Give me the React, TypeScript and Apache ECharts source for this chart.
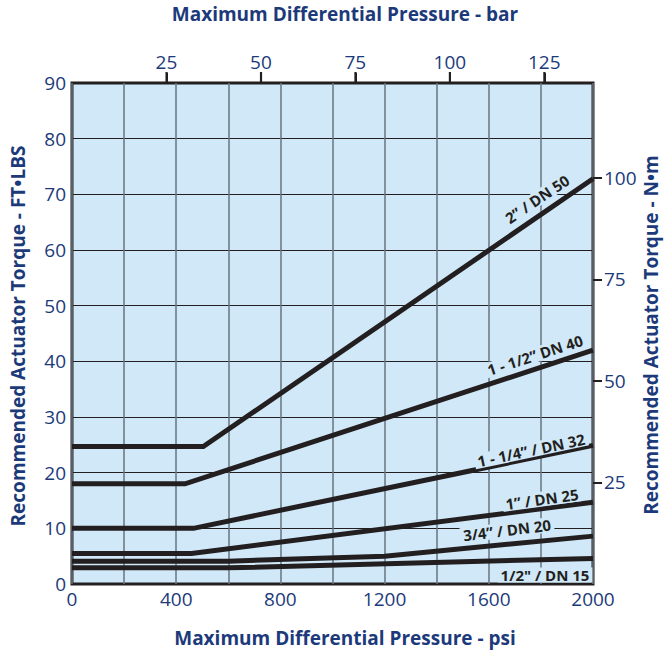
import React, { useEffect, useRef } from "react";
import * as echarts from "echarts";

// psi vs ft-lbs
const dn50 = [[0, 24.7], [504, 24.7], [2000, 72.8]];
const dn40 = [[0, 18.0], [434, 18.0], [2000, 42.0]];
const dn32 = [[0, 10.0], [466, 10.0], [2000, 24.9]];
const dn25 = [[0, 5.5], [459, 5.5], [2000, 14.7]];
const dn20 = [[0, 4.1], [600, 4.1], [1200, 5.0], [2000, 8.6]];
const dn15 = [[0, 2.9], [600, 2.9], [2000, 4.6]];

const barTicks = [25, 50, 75, 100, 125];
const nmTicks = [25, 50, 75, 100];
const lineLabels = ["2” / DN 50", "1 - 1/2” DN 40", "1 - 1/4” / DN 32", "1” / DN 25", "3/4” / DN 20", "1/2\" / DN 15"];

const NAVY = "#1c3a7a";
const INK = "#231f20";
const BG = "#d0e8f7";
const FONT = '"Open Sans", "Noto Sans", sans-serif';

export default function App() {
  const ref = useRef<HTMLDivElement>(null);
  useEffect(() => {
    document.body.style.margin = "0";
    const chart = echarts.init(ref.current!, null, { renderer: "svg" });
    const mkSeries = (d: number[][]) => ({
      type: "line",
      data: d,
      symbol: "none",
      silent: true,
      lineStyle: { color: INK, width: 5, join: "miter" },
      z: 3,
    });
    const lbl = (text: string, x: number, y: number, deg: number) => ({
      type: "text",
      x,
      y,
      rotation: (deg * Math.PI) / 180,
      z: 10,
      style: {
        text,
        font: `bold 15px ${FONT}`,
        fill: INK,
        align: "center",
        verticalAlign: "middle",
        backgroundColor: BG,
        padding: [0, 3],
      },
    });
    const title = (text: string, x: number, y: number, rot: number) => ({
      type: "text",
      x,
      y,
      rotation: rot,
      style: {
        text,
        font: `bold 19px ${FONT}`,
        fill: NAVY,
        align: "center",
        verticalAlign: "middle",
      },
    });
    const tickLabel = { color: NAVY, fontSize: 19, fontFamily: FONT };
    const topTicks = {
      type: "custom",
      xAxisIndex: 1,
      yAxisIndex: 0,
      clip: false,
      silent: true,
      z: 6,
      data: barTicks.map((v) => [v, 90]),
      renderItem: (_p: any, api: any) => {
        const pt = api.coord([api.value(0), api.value(1)]);
        return {
          type: "rect",
          shape: { x: pt[0] - 1, y: pt[1] - 11, width: 2.2, height: 11 },
          style: { fill: INK },
        };
      },
    };
    chart.setOption({
      animation: false,
      grid: {
        left: 72,
        right: 71,
        top: 83,
        bottom: 71,
        show: true,
        backgroundColor: BG,
        borderColor: INK,
        borderWidth: 3,
      },
      xAxis: [
        {
          type: "value",
          position: "bottom",
          min: 0,
          max: 2000,
          interval: 200,
          axisLine: { show: false, onZero: false },
          axisTick: { show: false },
          axisLabel: {
            ...tickLabel,
            margin: 5,
            formatter: (v: number) => (v % 400 === 0 ? String(v) : ""),
          },
          splitLine: { show: true, lineStyle: { color: "#69767f", width: 1.5 } },
        },
        {
          type: "value",
          position: "top",
          min: 0,
          max: 2000 / 14.5038,
          interval: 25,
          axisLine: { show: false, onZero: false },
          axisTick: {
            show: true,
            inside: false,
            customValues: barTicks,
            length: 10,
            lineStyle: { color: INK, width: 2 },
          },
          axisLabel: {
            ...tickLabel,
            customValues: barTicks,
            margin: 12,
          },
          splitLine: { show: false },
        },
      ],
      yAxis: [
        {
          type: "value",
          position: "left",
          min: 0,
          max: 90,
          interval: 10,
          axisLine: { show: false, onZero: false },
          axisTick: { show: false },
          axisLabel: { ...tickLabel, margin: 6 },
          splitLine: { show: true, lineStyle: { color: INK, width: 1 } },
        },
        {
          type: "value",
          position: "right",
          min: 0,
          max: 123.3,
          interval: 25,
          axisLine: { show: false, onZero: false },
          axisTick: {
            show: true,
            inside: false,
            customValues: nmTicks,
            length: 9,
            lineStyle: { color: INK, width: 2 },
          },
          axisLabel: {
            ...tickLabel,
            customValues: nmTicks,
            margin: 11,
          },
          splitLine: { show: false },
        },
      ],
      series: [...[dn50, dn40, dn32, dn25, dn20, dn15].map(mkSeries), topTicks],
      graphic: [
        title("Maximum Differential Pressure - bar", 345, 14, 0),
        title("Maximum Differential Pressure - psi", 345, 638, 0),
        title("Recommended Actuator Torque - FT•LBS", 18, 336, Math.PI / 2),
        title("Recommended Actuator Torque - N•m", 651, 335, Math.PI / 2),
        lbl(lineLabels[0], 537, 199, 34),
        lbl(lineLabels[1], 535, 355, 18),
        lbl(lineLabels[2], 531, 450, 12),
        lbl(lineLabels[3], 542, 499, 8),
        lbl(lineLabels[4], 507, 530, 7),
        lbl(lineLabels[5], 545, 575, 0),
      ],
    });
    return () => chart.dispose();
  }, []);
  return <div ref={ref} style={{ width: 664, height: 655 }} />;
}
